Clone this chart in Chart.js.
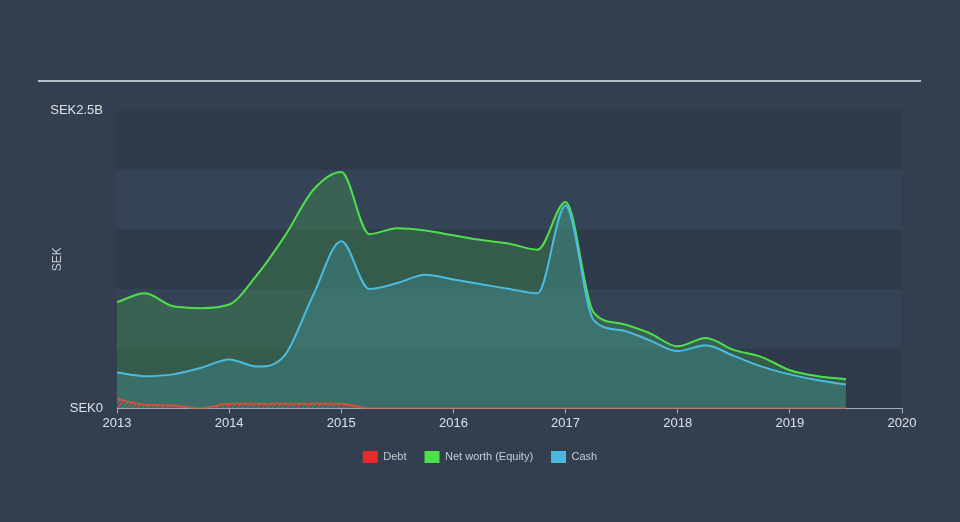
<!DOCTYPE html>
<html>
<head>
<meta charset="utf-8">
<script src="https://cdn.jsdelivr.net/npm/chart.js@4.4.1/dist/chart.umd.min.js"></script>
<style>
  html, body { margin: 0; padding: 0; background: #333f4f; }
  #wrap { width: 960px; height: 522px; }
</style>
</head>
<body>
<div id="wrap"><canvas id="chart" width="960" height="522"></canvas></div>
<script>
// Balance sheet history, values in SEK billions, quarterly points
const years = [2013, 2013.25, 2013.5, 2013.75, 2014, 2014.25, 2014.5, 2014.75,
  2015, 2015.25, 2015.5, 2015.75, 2016, 2016.25, 2016.5, 2016.75,
  2017, 2017.25, 2017.5, 2017.75, 2018, 2018.25, 2018.5, 2018.75,
  2019, 2019.25, 2019.5];
const debt = [0.08, 0.03, 0.025, 0, 0.04, 0.04, 0.04, 0.04,
  0.04, 0, 0, 0, 0, 0, 0, 0,
  0, 0, 0, 0, 0, 0, 0, 0,
  0, 0, 0];
const equity = [0.89, 0.965, 0.855, 0.84, 0.87, 1.12, 1.45, 1.83,
  1.98, 1.46, 1.51, 1.49, 1.45, 1.41, 1.38, 1.33,
  1.73, 0.805, 0.71, 0.63, 0.52, 0.59, 0.49, 0.43,
  0.32, 0.27, 0.245];
const cash = [0.30, 0.27, 0.285, 0.34, 0.41, 0.35, 0.45, 0.95,
  1.40, 1.00, 1.05, 1.12, 1.08, 1.04, 1.00, 0.965,
  1.70, 0.74, 0.655, 0.57, 0.48, 0.53, 0.44, 0.35,
  0.285, 0.235, 0.20];
const seriesNames = ["Debt", "Net worth (Equity)", "Cash"];
const legendColors = ["#e82a2a", "#4ee04a", "#4ab8de"];
const yTickValues = [0, 2.5];

function pts(arr) {
  return years.map((x, i) => ({ x: x, y: arr[i] }));
}

// hatched fill for the debt area
function hatch() {
  const c = document.createElement("canvas");
  c.width = 5; c.height = 5;
  const g = c.getContext("2d");
  g.strokeStyle = "rgba(225,85,60,0.85)";
  g.lineWidth = 1;
  g.beginPath();
  g.moveTo(0, 5); g.lineTo(5, 0);
  g.stroke();
  return g.createPattern(c, "repeat");
}

const bandsPlugin = {
  id: "bands",
  beforeDraw(chart) {
    const { ctx, chartArea } = chart;
    const y = chart.scales.y;
    ctx.save();
    for (let v = 0; v < 2.5; v += 0.5) {
      const top = y.getPixelForValue(v + 0.5);
      const bot = y.getPixelForValue(v);
      const idx = Math.round(v / 0.5);
      ctx.fillStyle = idx % 2 === 0 ? "#2f3b4b" : "#344355";
      ctx.fillRect(chartArea.left, top, chartArea.right - chartArea.left, bot - top);
    }
    // top rule
    ctx.fillStyle = "#b8bec6";
    ctx.fillRect(38, 80, 883, 2);
    ctx.restore();
  }
};

new Chart(document.getElementById("chart"), {
  type: "line",
  data: {
    datasets: [
      {
        label: seriesNames[0],
        data: pts(debt),
        borderColor: "#d4503c",
        backgroundColor: hatch(),
        borderWidth: 2,
        fill: "origin",
        order: 0
      },
      {
        label: seriesNames[1],
        data: pts(equity),
        borderColor: "#4ee04a",
        backgroundColor: "rgba(78,226,74,0.2)",
        borderWidth: 2,
        fill: "origin",
        order: 2
      },
      {
        label: seriesNames[2],
        data: pts(cash),
        borderColor: "#4bbbe0",
        backgroundColor: "rgba(75,187,224,0.2)",
        borderWidth: 2,
        fill: "origin",
        order: 1
      }
    ]
  },
  options: {
    responsive: false,
    animation: false,
    layout: { padding: { top: 110, right: 0, bottom: 49, left: 0 } },
    elements: {
      point: { radius: 0 },
      line: { cubicInterpolationMode: "monotone" }
    },
    plugins: {
      tooltip: { enabled: false },
      legend: {
        position: "bottom",
        labels: {
          color: "#c6cbd2",
          font: { family: "Liberation Sans, Arial", size: 11 },
          boxWidth: 15,
          boxHeight: 12,
          padding: 18,
          sort: (a, b) => a.datasetIndex - b.datasetIndex,
          generateLabels(chart) {
            const items = Chart.defaults.plugins.legend.labels.generateLabels(chart);
            items.forEach((it) => {
              it.fillStyle = legendColors[it.datasetIndex];
              it.strokeStyle = legendColors[it.datasetIndex];
              it.lineWidth = 0;
            });
            return items;
          }
        }
      }
    },
    scales: {
      x: {
        type: "linear",
        min: 2013,
        max: 2020,
        grid: { drawOnChartArea: false, color: "#a3abb6", tickLength: 5 },
        border: { color: "#a3abb6" },
        ticks: {
          stepSize: 1,
          color: "#dde1e6",
          padding: 2,
          font: { family: "Liberation Sans, Arial", size: 13 },
          callback: (v) => String(v)
        }
      },
      y: {
        min: 0,
        max: 2.5,
        afterFit(scale) { scale.width = 117; },
        afterBuildTicks(scale) {
          scale.ticks = yTickValues.map((v) => ({ value: v }));
        },
        grid: { display: false, drawTicks: false },
        border: { display: false },
        title: {
          display: true,
          text: "SEK",
          color: "#c6cbd2",
          font: { family: "Liberation Sans, Arial", size: 12 },
          padding: { top: 50 }
        },
        ticks: {
          color: "#dde1e6",
          padding: 14,
          font: { family: "Liberation Sans, Arial", size: 13 },
          callback: (v) => (v === 0 ? "SEK0" : "SEK2.5B")
        }
      },
      // empty right gutter so the legend centres on the page
      yRight: {
        position: "right",
        min: 0,
        max: 2.5,
        afterFit(scale) { scale.width = 58; },
        grid: { display: false, drawTicks: false },
        border: { display: false },
        ticks: { display: false }
      }
    }
  },
  plugins: [bandsPlugin]
});
</script>
</body>
</html>
